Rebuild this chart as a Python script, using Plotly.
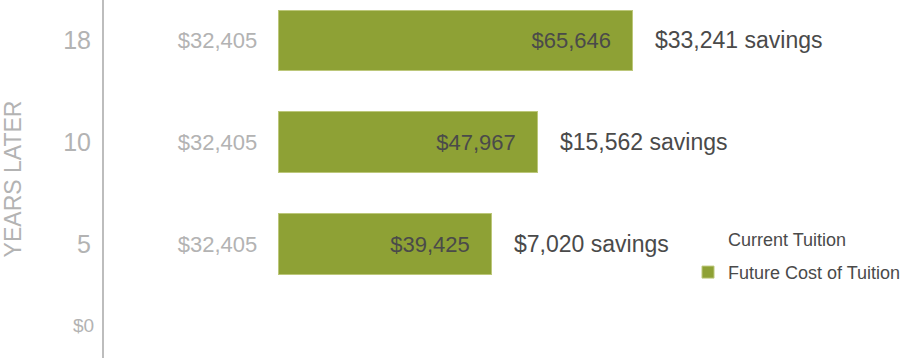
import plotly.graph_objects as go

# ---- data ----
years = ["5", "10", "18"]
current_tuition = [32405, 32405, 32405]
future_cost = [39425, 47967, 65646]
savings = [7020, 15562, 33241]

GREEN = "#8ea135"
GRAY = "#b3b3b3"
DARK = "#4a4a4a"
FONT = "Liberation Sans, Arial, sans-serif"
PAD = "\u00a0\u00a0\u00a0"

def money(v):
    return "${:,}".format(v)

fig = go.Figure()
fig.add_trace(go.Bar(
    y=years, x=current_tuition, orientation="h", name="Current Tuition",
    marker=dict(color="white", line=dict(width=0)),
    text=[money(v) + PAD for v in current_tuition],
    textposition="inside", insidetextanchor="end",
    textfont=dict(color=GRAY, size=22, family=FONT),
    legendgroup="a", hoverinfo="skip",
))
fig.add_trace(go.Bar(
    y=years, x=future_cost, orientation="h", name="Future Cost of Tuition",
    marker=dict(color=GREEN, line=dict(width=1, color="#bcc77a")),
    text=[money(v) + PAD for v in future_cost],
    textposition="inside", insidetextanchor="end",
    textfont=dict(color=DARK, size=22, family=FONT),
    legendgroup="b", hoverinfo="skip",
))

for i, (c, f, s) in enumerate(zip(current_tuition, future_cost, savings)):
    fig.add_annotation(x=c + f, y=i, xref="x", yref="y", text=money(s) + " savings",
                       showarrow=False, xanchor="left", yanchor="middle", xshift=21,
                       font=dict(size=23, color=DARK, family=FONT))

fig.add_annotation(x=0, y=1 - 325 / 358, xref="x", yref="paper", text="$0",
                   showarrow=False, xanchor="right", yanchor="middle", xshift=-8,
                   font=dict(size=19, color=GRAY, family=FONT))

fig.update_layout(
    width=906, height=361,
    margin=dict(l=104, r=0, t=0, b=3),
    barmode="stack", bargap=0.402,
    plot_bgcolor="white", paper_bgcolor="white",
    font=dict(family=FONT),
    showlegend=True,
    legend=dict(x=(689 - 104) / 802, y=1 - 255.5 / 358, xanchor="left", yanchor="middle",
                traceorder="grouped", tracegroupgap=7,
                font=dict(size=18, color=DARK, family=FONT),
                bgcolor="rgba(0,0,0,0)"),
    xaxis=dict(visible=False, range=[0, 148650], fixedrange=True),
    yaxis=dict(type="category", categoryorder="array", categoryarray=years,
               range=[-1.113, 2.397], showline=True, linecolor="#bdbdbd", linewidth=2,
               showgrid=False, zeroline=False, ticks="", ticklabelstandoff=6,
               tickfont=dict(size=25, color=GRAY, family=FONT),
               title=dict(text="YEARS LATER", standoff=44,
                          font=dict(size=23, color=GRAY, family=FONT))),
)

fig.write_html("out.html")
